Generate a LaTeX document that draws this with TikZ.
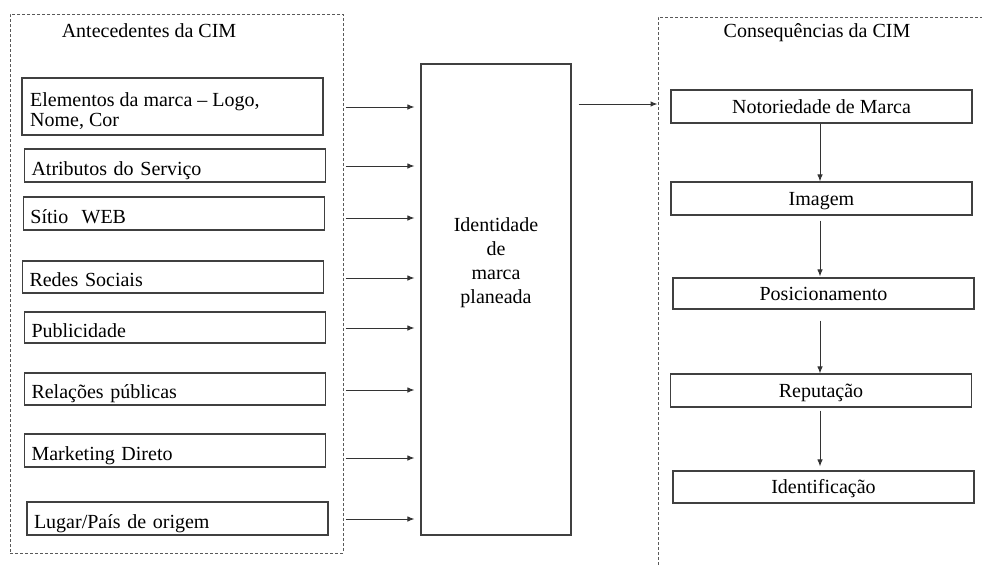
\documentclass[tikz,border=0pt]{standalone}
\usepackage{fontspec}
\setmainfont{Liberation Serif}
\newfontfamily\tnr{Liberation Serif}
\usetikzlibrary{arrows.meta}
\begin{document}
\begin{tikzpicture}[x=1pt,y=-1pt,
  every node/.style={font=\tnr\fontsize{20}{20}\selectfont, text=black},
  frame/.style={draw=black!65, line width=1pt, dash pattern=on 3pt off 2pt, inner sep=0pt},
  lbox/.style={draw=black!75, line width=1.1pt, minimum width=301pt, text width=287pt, inner xsep=7pt, inner ysep=0pt, align=left, text height=19pt, text depth=0pt},
  rbox/.style={draw=black!75, line width=1.1pt, minimum width=301pt, inner sep=0pt, align=center, text height=16pt, text depth=3pt},
  arr/.style={draw=black!80, line width=1pt, -{Latex[length=7pt,width=5.5pt]}},
  ttl/.style={inner sep=0pt}
]
\useasboundingbox (0,0) rectangle (982,566);
\clip (0,0) rectangle (982,566);
\fill[white] (0,0) rectangle (982,566);

% frames
\node[frame, minimum width=333pt, minimum height=539pt] (L) at (176.5,283.5) {};
\node[frame, minimum width=360pt, minimum height=580pt] (R) at (838,307) {};
\node[ttl] (Lt) at (149,31) {Antecedentes da CIM};
\node[ttl] (Rt) at (817,33) {Consequências da CIM};

% left boxes
\node[draw=black!75, line width=1.1pt, minimum width=301pt, minimum height=57pt, inner sep=0pt] (e1) at (172.5,106.5) {};
\node[anchor=base west, inner sep=0pt, align=left] (e1t) at (30,126) {Elementos da marca – Logo,\\Nome, Cor};
\node[lbox, minimum height=33pt] (e2) at (175,165.5) {Atributos do Serviço};
\node[lbox, minimum height=33pt] (e3) at (174,213.5) {Sítio\ \ WEB};
\node[lbox, minimum height=32pt] (e4) at (173,277) {Redes Sociais};
\node[lbox, minimum height=31pt] (e5) at (175,327.5) {Publicidade};
\node[lbox, minimum height=32pt] (e6) at (175,389) {Relações públicas};
\node[lbox, minimum height=33pt] (e7) at (175,450.5) {Marketing Direto};
\node[lbox, minimum height=33pt] (e8) at (177.5,518.5) {Lugar/País de origem};

% center box
\node[draw=black!75, line width=1.1pt, minimum width=150pt, minimum height=471pt, inner sep=0pt] (c) at (496,299.5) {};
\node[inner sep=0pt, align=center, font=\tnr\fontsize{20}{24}\selectfont] (ct) at (496,263) {Identidade\\de\\marca\\planeada};

% right boxes
\node[rbox, minimum height=33pt] (n1) at (821.5,106.5) {Notoriedade de Marca};
\node[rbox, minimum height=33pt] (n2) at (821.5,198.5) {Imagem};
\node[rbox, minimum height=31pt] (n3) at (823.5,293.5) {Posicionamento};
\node[rbox, minimum height=33pt] (n4) at (821,390.5) {Reputação};
\node[rbox, minimum height=32pt] (n5) at (823.5,487) {Identificação};

% arrows into center
\coordinate (a1) at (0,107);
\coordinate (a2) at (0,166);
\coordinate (a3) at (0,218);
\coordinate (a4) at (0,278);
\coordinate (a5) at (0,328);
\coordinate (a6) at (0,390);
\coordinate (a7) at (0,458);
\coordinate (a8) at (0,519);
\foreach \i in {1,...,8}{
  \draw[arr, shorten <=2pt, shorten >=6pt] (L.east |- a\i) -- (c.west |- a\i);
}

% center to right
\coordinate (b0) at (0,104);
\draw[arr, shorten <=7pt] (c.east |- b0) -- (R.west |- b0);

% vertical arrows
\coordinate (ax) at (820,0);
\draw[arr] (n1.south -| ax) -- (n2.north -| ax);
\draw[arr, shorten <=5pt, shorten >=1pt] (n2.south -| ax) -- (n3.north -| ax);
\draw[arr, shorten <=11pt] (n3.south -| ax) -- (n4.north -| ax);
\draw[arr, shorten <=3pt, shorten >=4pt] (n4.south -| ax) -- (n5.north -| ax);
\end{tikzpicture}
\end{document}
